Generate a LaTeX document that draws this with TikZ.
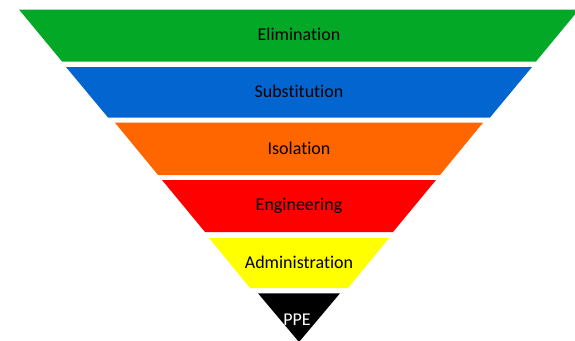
\documentclass[tikz,border=0pt]{standalone}
\usepackage{fontspec}
\setmainfont[Ligatures=NoCommon]{Carlito}
\usepackage{tikz}
\usetikzlibrary{positioning}
\definecolor{elimgreen}{HTML}{02A826}
\definecolor{substblue}{HTML}{0366D0}
\definecolor{isolorange}{HTML}{FF6600}
\definecolor{engred}{HTML}{FF0000}
\definecolor{adminyellow}{HTML}{FFFF00}
\tikzset{
band/.style={draw=none}, % the coloured slices of the pyramid
bandlabel/.style={font=\fontsize{18}{20}\selectfont, text=black, inner sep=0pt}, % text on each slice
}

\begin{document}
\begin{tikzpicture}[x=1pt, y=-1pt]
                \useasboundingbox (0,0) rectangle (575,340);
                \clip (0,0) rectangle (575,340);
                % slices, widest on top
                \fill[band, elimgreen]   (19,9.5) -- (579,9.5) -- (536,61.5) -- (62,61.5) -- cycle;
                \fill[band, substblue]   (66,67) -- (532,67) -- (490,117.5) -- (108,117.5) -- cycle;
                \fill[band, isolorange]  (115,122.7) -- (483,122.7) -- (440,175) -- (158,175) -- cycle;
                \fill[band, engred]      (162,180) -- (436,180) -- (393,232) -- (205,232) -- cycle;
                \fill[band, adminyellow] (209,238) -- (389,238) -- (348,288) -- (250,288) -- cycle;
                \fill[band, black]       (258,293.3) -- (340,293.3) -- (299,342) -- cycle;
                % labels
                \node[bandlabel] (elim) at (299,34.5) {Elimination};
                \node[bandlabel] (subst) at (299,91.5) {Substitution};
                \node[bandlabel] (isol) at (299,148.5) {Isolation};
                \node[bandlabel] (eng) at (299,205.5) {Engineering};
                \node[bandlabel] (admin) at (299,262.5) {Administration};
                \node[bandlabel, text=white] (ppe) at (297,319.5) {PPE};
\end{tikzpicture}
\end{document}
